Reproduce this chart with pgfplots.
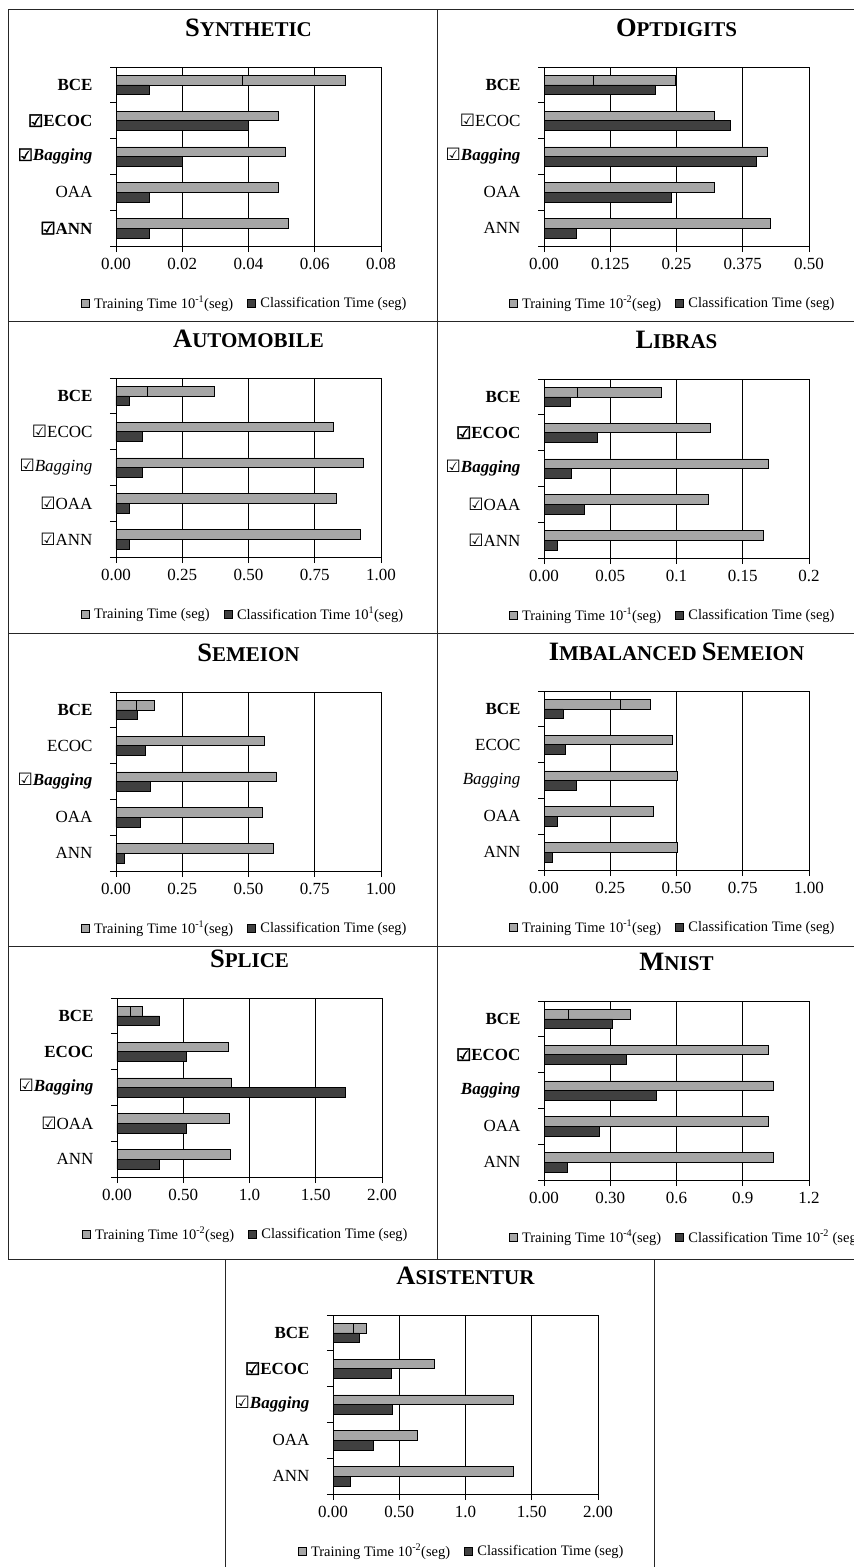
\documentclass[border=0pt]{standalone}
\usepackage{pgfplots}
\pgfplotsset{compat=1.18}
\usepackage{fontspec}
\setmainfont{Liberation Serif}
\newfontfamily\chk{DejaVu Sans}
\newfontfamily\chkb[FakeBold=2.5]{DejaVu Sans}
\definecolor{trainc}{RGB}{166,166,166}
\definecolor{clsc}{RGB}{64,64,64}
\newcommand\ck{{\chk\mdseries\upshape ☑}}
\newcommand\bck{{\chkb\mdseries\upshape ☑}}
\newcommand\sct[2]{{\fontsize{26.5}{26}\selectfont\bfseries #1}{\fontsize{21}{20}\selectfont\bfseries #2}}
\newcommand\trainleg{\addlegendimage{legend image code/.code={\draw[fill=trainc,draw=black,line width=0.5pt] (0pt,-4pt) rectangle (8pt,4pt); \path[draw=none,fill=none] (8pt,0pt) -- (11pt,0pt);}}}
\newcommand\clsleg{\addlegendimage{legend image code/.code={\draw[fill=clsc,draw=black,line width=0.5pt] (0pt,-4pt) rectangle (8pt,4pt); \path[draw=none,fill=none] (8pt,0pt) -- (11pt,0pt);}}}
\pgfplotsset{
 panel/.style={
  scale only axis, width=265pt, height=179pt, xmin=0, ymin=-0.5, ymax=4.5,
  enlargelimits=false, scaled x ticks=false,
  axis line style={black, line width=0.8pt},
  tick align=outside, major tick length=6pt, tick style={black, line width=0.7pt},
  tick pos=left,
  xmajorgrids, grid style={black, line width=0.7pt},
  ytick={-0.5,0.5,1.5,2.5,3.5,4.5}, yticklabels={},
  extra y ticks={0,1,2,3,4},
  extra y tick style={tick style={draw=none}, grid=none},
  yticklabel style={font=\fontsize{17}{17}\selectfont, xshift=-14pt},
  xticklabel style={font=\fontsize{17}{17}\selectfont, yshift=-3pt},
  /pgf/number format/assume math mode=true,
  title style={at={(axis description cs:0.5,1)}, anchor=base, yshift=24.5pt},
  legend style={at={(axis description cs:-0.145,-0.318)}, anchor=west, draw=none, fill=none,
    legend columns=2, font=\fontsize{14.5}{15}\selectfont,
    /tikz/every even column/.append style={column sep=12pt}},
 },
 train/.style={xbar, bar width=0.27, fill=trainc, draw=black, line width=0.5pt, bar shift=0.135, forget plot},
 cls/.style={xbar, bar width=0.27, fill=clsc, draw=black, line width=0.5pt, bar shift=-0.135, forget plot},
}
\begin{document}
\begin{tikzpicture}
% frames
\begin{scope}[line width=1pt, black!85]
\draw (8pt,-9pt) -- (854pt,-9pt);
\draw (8pt,-9pt) -- (8pt,-1259pt);
\draw (437pt,-9pt) -- (437pt,-1259pt);
\draw (8pt,-321pt) -- (854pt,-321pt);
\draw (8pt,-633pt) -- (854pt,-633pt);
\draw (8pt,-946pt) -- (854pt,-946pt);
\draw (8pt,-1259pt) -- (854pt,-1259pt);
\draw (225pt,-1259pt) -- (225pt,-1567pt);
\draw (654pt,-1259pt) -- (654pt,-1567pt);
\end{scope}

% 1 Synthetic
\begin{axis}[panel, at={(116pt,-67pt)}, anchor=north west, xmax=0.08,
  xtick={0,0.02,0.04,0.06,0.08}, xticklabels={0.00,0.02,0.04,0.06,0.08},
  extra y tick labels={{\bck\bfseries ANN},{OAA},{\bck\bfseries\itshape Bagging},{\bck\bfseries ECOC},{\bfseries BCE}},
  title={\sct{S}{YNTHETIC}}]
\addplot[train] coordinates {(0.0691,4) (0.0491,3) (0.0511,2) (0.049,1) (0.052,0)};
\addplot[train] coordinates {(0.038,4)};
\addplot[cls] coordinates {(0.010,4) (0.040,3) (0.020,2) (0.010,1) (0.010,0)};
\trainleg \addlegendentry{Training Time 10\textsuperscript{-1}(seg)}
\clsleg \addlegendentry{Classification Time (seg)}
\end{axis}

% 2 Optdigits
\begin{axis}[panel, at={(544pt,-67pt)}, anchor=north west, xmax=0.5,
  xtick={0,0.125,0.25,0.375,0.5}, xticklabels={0.00,0.125,0.25,0.375,0.50},
  extra y tick labels={{ANN},{OAA},{\ck\bfseries\itshape Bagging},{\ck ECOC},{\bfseries BCE}},
  title={\sct{O}{PTDIGITS}}]
\addplot[train] coordinates {(0.2484,4) (0.3208,3) (0.4208,2) (0.3208,1) (0.4264,0)};
\addplot[train] coordinates {(0.0925,4)};
\addplot[cls] coordinates {(0.2107,4) (0.3516,3) (0.4006,2) (0.2409,1) (0.061,0)};
\trainleg \addlegendentry{Training Time 10\textsuperscript{-2}(seg)}
\clsleg \addlegendentry{Classification Time (seg)}
\end{axis}

% 3 Automobile
\begin{axis}[panel, at={(116pt,-378pt)}, anchor=north west, xmax=1,
  xtick={0,0.25,0.5,0.75,1}, xticklabels={0.00,0.25,0.50,0.75,1.00},
  extra y tick labels={{\ck ANN},{\ck OAA},{\ck\itshape Bagging},{\ck ECOC},{\bfseries BCE}},
  title={\sct{A}{UTOMOBILE}}]
\addplot[train] coordinates {(0.370,4) (0.820,3) (0.932,2) (0.831,1) (0.922,0)};
\addplot[train] coordinates {(0.117,4)};
\addplot[cls] coordinates {(0.050,4) (0.100,3) (0.100,2) (0.050,1) (0.050,0)};
\trainleg \addlegendentry{Training Time (seg)}
\clsleg \addlegendentry{Classification Time 10\textsuperscript{1}(seg)}
\end{axis}

% 4 Libras
\begin{axis}[panel, at={(544pt,-379pt)}, anchor=north west, xmax=0.2,
  xtick={0,0.05,0.1,0.15,0.2}, xticklabels={0.00,0.05,0.1,0.15,0.2},
  extra y tick labels={{\ck ANN},{\ck OAA},{\ck\bfseries\itshape Bagging},{\bck\bfseries ECOC},{\bfseries BCE}},
  title={\sct{L}{IBRAS}}]
\addplot[train] coordinates {(0.0883,4) (0.1253,3) (0.169,2) (0.1243,1) (0.1653,0)};
\addplot[train] coordinates {(0.0252,4)};
\addplot[cls] coordinates {(0.0199,4) (0.0403,3) (0.0206,2) (0.0304,1) (0.010,0)};
\trainleg \addlegendentry{Training Time 10\textsuperscript{-1}(seg)}
\clsleg \addlegendentry{Classification Time (seg)}
\end{axis}

% 5 Semeion
\begin{axis}[panel, at={(116pt,-692pt)}, anchor=north west, xmax=1,
  xtick={0,0.25,0.5,0.75,1}, xticklabels={0.00,0.25,0.50,0.75,1.00},
  extra y tick labels={{ANN},{OAA},{\ck\bfseries\itshape Bagging},{ECOC},{\bfseries BCE}},
  title={\sct{S}{EMEION}}]
\addplot[train] coordinates {(0.145,4) (0.560,3) (0.605,2) (0.552,1) (0.594,0)};
\addplot[train] coordinates {(0.075,4)};
\addplot[cls] coordinates {(0.080,4) (0.111,3) (0.131,2) (0.092,1) (0.033,0)};
\trainleg \addlegendentry{Training Time 10\textsuperscript{-1}(seg)}
\clsleg \addlegendentry{Classification Time (seg)}
\end{axis}

% 6 Imbalanced Semeion
\begin{axis}[panel, at={(544pt,-691pt)}, anchor=north west, xmax=1,
  xtick={0,0.25,0.5,0.75,1}, xticklabels={0.00,0.25,0.50,0.75,1.00},
  extra y tick labels={{ANN},{OAA},{\itshape Bagging},{ECOC},{\bfseries BCE}},
  title={\sct{I}{MBALANCED }\sct{S}{EMEION}}]
\addplot[train] coordinates {(0.400,4) (0.483,3) (0.502,2) (0.413,1) (0.502,0)};
\addplot[train] coordinates {(0.287,4)};
\addplot[cls] coordinates {(0.072,4) (0.080,3) (0.121,2) (0.050,1) (0.031,0)};
\trainleg \addlegendentry{Training Time 10\textsuperscript{-1}(seg)}
\clsleg \addlegendentry{Classification Time (seg)}
\end{axis}

% 7 Splice
\begin{axis}[panel, at={(117pt,-998pt)}, anchor=north west, xmax=2,
  xtick={0,0.5,1,1.5,2}, xticklabels={0.00,0.50,1.0,1.50,2.00},
  extra y tick labels={{ANN},{\ck OAA},{\ck\bfseries\itshape Bagging},{\bfseries ECOC},{\bfseries BCE}},
  title={\sct{S}{PLICE}}]
\addplot[train] coordinates {(0.193,4) (0.841,3) (0.863,2) (0.846,1) (0.858,0)};
\addplot[train] coordinates {(0.103,4)};
\addplot[cls] coordinates {(0.321,4) (0.519,3) (1.721,2) (0.519,1) (0.321,0)};
\trainleg \addlegendentry{Training Time 10\textsuperscript{-2}(seg)}
\clsleg \addlegendentry{Classification Time (seg)}
\end{axis}

% 8 Mnist
\begin{axis}[panel, at={(544pt,-1001pt)}, anchor=north west, xmax=1.2,
  xtick={0,0.3,0.6,0.9,1.2}, xticklabels={0.00,0.30,0.6,0.9,1.2},
  extra y tick labels={{ANN},{OAA},{\bfseries\itshape Bagging},{\bck\bfseries ECOC},{\bfseries BCE}},
  title={\sct{M}{NIST}}]
\addplot[train] coordinates {(0.389,4) (1.014,3) (1.038,2) (1.017,1) (1.037,0)};
\addplot[train] coordinates {(0.109,4)};
\addplot[cls] coordinates {(0.311,4) (0.371,3) (0.507,2) (0.248,1) (0.104,0)};
\trainleg \addlegendentry{Training Time 10\textsuperscript{-4}(seg)}
\clsleg \addlegendentry{Classification Time 10\textsuperscript{-2} (seg)}
\end{axis}

% 9 Asistentur
\begin{axis}[panel, at={(333pt,-1315pt)}, anchor=north west, xmax=2,
  xtick={0,0.5,1,1.5,2}, xticklabels={0.00,0.50,1.0,1.50,2.00},
  extra y tick labels={{ANN},{OAA},{\ck\bfseries\itshape Bagging},{\bck\bfseries ECOC},{\bfseries BCE}},
  title={\sct{A}{SISTENTUR}}]
\addplot[train] coordinates {(0.249,4) (0.762,3) (1.358,2) (0.634,1) (1.358,0)};
\addplot[train] coordinates {(0.151,4)};
\addplot[cls] coordinates {(0.199,4) (0.440,3) (0.450,2) (0.304,1) (0.131,0)};
\trainleg \addlegendentry{Training Time 10\textsuperscript{-2}(seg)}
\clsleg \addlegendentry{Classification Time (seg)}
\end{axis}

\pgfresetboundingbox
\useasboundingbox (0pt,0pt) rectangle (854pt,-1567pt);
\end{tikzpicture}
\end{document}
